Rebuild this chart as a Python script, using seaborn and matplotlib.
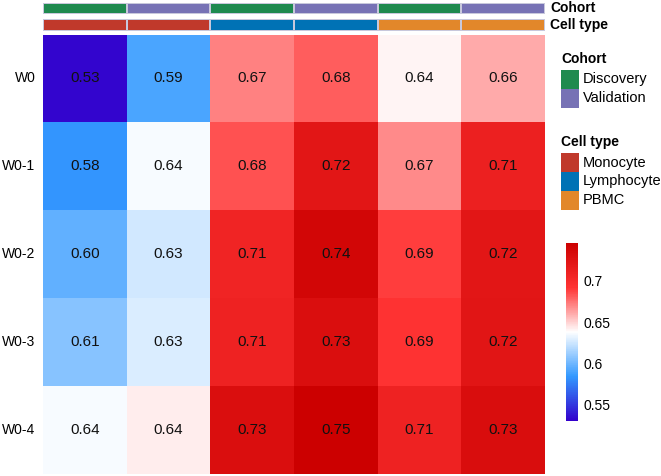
import numpy as np
import pandas as pd
import matplotlib
matplotlib.use("Agg")
import matplotlib.pyplot as plt
import seaborn as sns
from matplotlib.colors import LinearSegmentedColormap, ListedColormap
from matplotlib.patches import Rectangle

# data
rows = ["W0", "W0-1", "W0-2", "W0-3", "W0-4"]
cohort = ["Discovery", "Validation", "Discovery", "Validation", "Discovery", "Validation"]
cell_type = ["Monocyte", "Monocyte", "Lymphocyte", "Lymphocyte", "PBMC", "PBMC"]
col_names = ["c1", "c2", "c3", "c4", "c5", "c6"]
auc = [
    [0.532, 0.590, 0.671, 0.681, 0.641, 0.660],
    [0.583, 0.636, 0.684, 0.722, 0.669, 0.712],
    [0.596, 0.626, 0.708, 0.739, 0.689, 0.722],
    [0.606, 0.628, 0.710, 0.731, 0.693, 0.724],
    [0.636, 0.643, 0.731, 0.746, 0.710, 0.732],
]
cohort_levels = ["Discovery", "Validation"]
cohort_colors = ["#1f8a4f", "#7772b5"]
cell_levels = ["Monocyte", "Lymphocyte", "PBMC"]
cell_colors = ["#c0392b", "#0072b5", "#e2872a"]

df = pd.DataFrame(auc, index=rows, columns=col_names)

plt.rcParams["font.family"] = ["Liberation Sans", "DejaVu Sans"]

cmap = LinearSegmentedColormap.from_list(
    "bwr2", ["#3300cc", "#3399ff", "#ffffff", "#ff3333", "#cc0000"])

W, H = 661, 476
fig = plt.figure(figsize=(W / 100, H / 100), dpi=100)

def box(x0, y0, x1, y1):
    return [x0 / W, 1 - y1 / H, (x1 - x0) / W, (y1 - y0) / H]

ax = fig.add_axes(box(43, 34.5, 545, 474))
ax_coh = fig.add_axes(box(43, 3, 545, 14))
ax_cell = fig.add_axes(box(43, 19, 545, 31))
cax = fig.add_axes(box(566, 243, 578, 421))

sns.heatmap(df, ax=ax, cmap=cmap, vmin=0.53, vmax=0.746, annot=True, fmt=".2f",
            annot_kws={"size": 11, "color": "#111111"}, cbar_ax=cax,
            xticklabels=False, yticklabels=rows)
ax.tick_params(axis="y", length=0, labelsize=10, pad=5.5)
ax.set_yticklabels(rows, rotation=0)
ax.set_xlabel("")
ax.set_ylabel("")

cb = ax.collections[0].colorbar
cb.outline.set_visible(False)
cb.set_ticks([0.55, 0.6, 0.65, 0.7])
cb.set_ticklabels(["0.55", "0.6", "0.65", "0.7"])
cax.tick_params(length=0, labelsize=10, pad=4)

# annotation bars
coh_codes = pd.DataFrame([[cohort_levels.index(c) for c in cohort]], columns=col_names)
cell_codes = pd.DataFrame([[cell_levels.index(c) for c in cell_type]], columns=col_names)
sns.heatmap(coh_codes, ax=ax_coh, cmap=ListedColormap(cohort_colors), vmin=-0.5, vmax=1.5,
            cbar=False, xticklabels=False, yticklabels=False, linewidths=0.3, linecolor="#c8c8dc")
sns.heatmap(cell_codes, ax=ax_cell, cmap=ListedColormap(cell_colors), vmin=-0.5, vmax=2.5,
            cbar=False, xticklabels=False, yticklabels=False, linewidths=0.3, linecolor="#c8c8dc")
for a, name in [(ax_coh, "Cohort"), (ax_cell, "Cell type")]:
    a.set_xlabel("")
    a.set_ylabel("")
    a.text(1.01, 0.5, name, transform=a.transAxes, ha="left", va="center",
           fontsize=10, fontweight="bold")

# legends drawn by hand so the keys sit flush like in the reference
def draw_legend(title, labels, colors, top):
    fig.text(561 / W, 1 - top / H, title, ha="left", va="center",
             fontsize=10, fontweight="bold")
    y = top + 11
    for lab, col in zip(labels, colors):
        fig.add_artist(Rectangle((561 / W, 1 - (y + 19) / H), 18 / W, 19 / H,
                                 transform=fig.transFigure, facecolor=col, edgecolor="none"))
        fig.text(583 / W, 1 - (y + 9.5) / H, lab, ha="left", va="center", fontsize=10.5)
        y += 19

draw_legend("Cohort", cohort_levels, cohort_colors, 59)
draw_legend("Cell type", cell_levels, cell_colors, 142)

fig.savefig("out.png", dpi=100)
